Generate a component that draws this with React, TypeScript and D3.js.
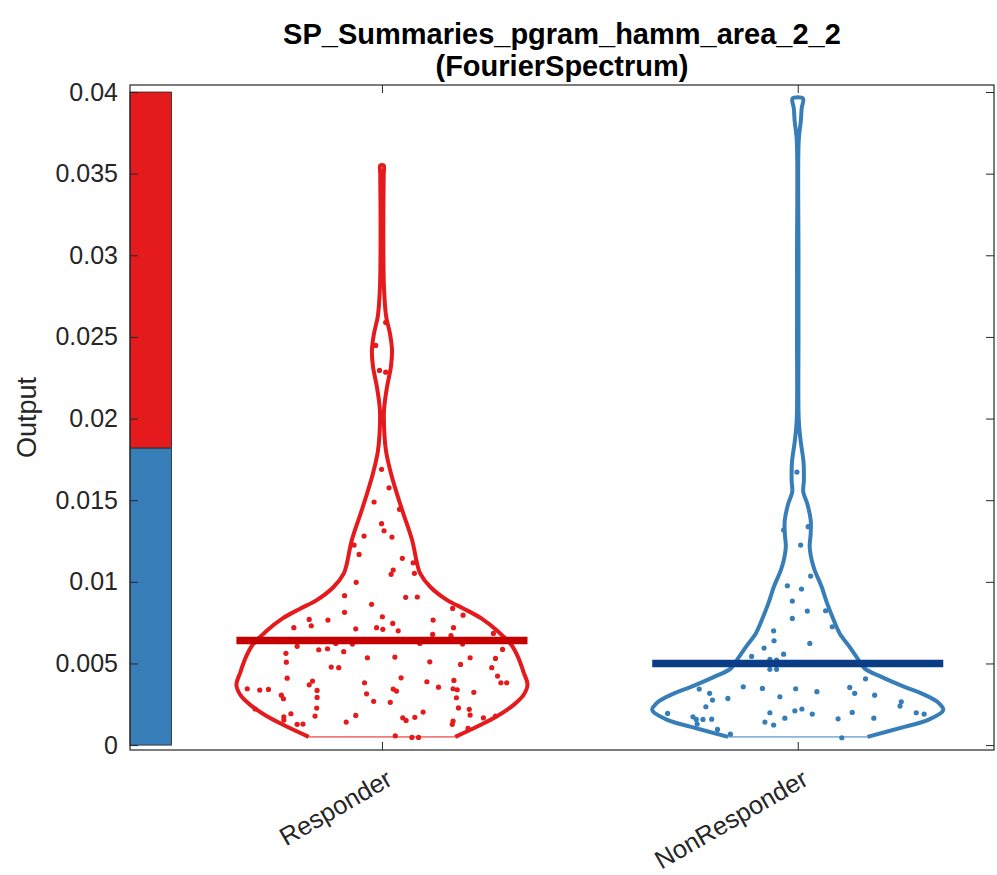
import React, { useEffect, useRef } from "react";
import * as d3 from "d3";

const categories = ["Responder", "NonResponder"];
const titleLines = ["SP_Summaries_pgram_hamm_area_2_2", "(FourierSpectrum)"];
const yTicks = [0, 0.005, 0.01, 0.015, 0.02, 0.025, 0.03, 0.035, 0.04];
const yTickLabels = ["0", "0.005", "0.01", "0.015", "0.02", "0.025", "0.03", "0.035", "0.04"];

// share of each group in the left bar (Responder on top, NonResponder below)
const barShares = [0.545, 0.455];
const barTop = 0.04;

// violin outlines: value levels and relative density
const respLevels = [0.0005, 0.00123, 0.00178, 0.00245, 0.00306, 0.00368, 0.00449, 0.00533, 0.00613, 0.00694, 0.00776, 0.00837, 0.00888, 0.0097, 0.01052, 0.01113, 0.01256, 0.0146, 0.01664, 0.018, 0.019, 0.0205, 0.0219, 0.0232, 0.0242, 0.0252, 0.0263, 0.028, 0.03, 0.033, 0.035, 0.0355];
const respDensity = [0.503, 0.676, 0.793, 0.903, 0.972, 1.0, 0.972, 0.938, 0.89, 0.8, 0.683, 0.559, 0.448, 0.331, 0.262, 0.241, 0.207, 0.131, 0.062, 0.028, 0.017, 0.014, 0.034, 0.062, 0.069, 0.055, 0.028, 0.014, 0.01, 0.01, 0.012, 0.012];

const nonLevels = [0.0005, 0.00112, 0.00153, 0.00214, 0.00265, 0.00317, 0.00357, 0.00418, 0.0047, 0.00521, 0.00602, 0.00684, 0.00766, 0.00868, 0.0097, 0.01072, 0.01133, 0.01215, 0.01297, 0.01378, 0.0148, 0.0155, 0.0162, 0.0173, 0.0187, 0.0199, 0.025, 0.03, 0.0371, 0.0382, 0.039, 0.0396];
const nonDensity = [0.479, 0.733, 0.892, 1.0, 0.959, 0.849, 0.733, 0.575, 0.459, 0.418, 0.356, 0.288, 0.247, 0.202, 0.164, 0.116, 0.096, 0.082, 0.089, 0.089, 0.065, 0.038, 0.042, 0.04, 0.019, 0.007, 0.005, 0.005, 0.007, 0.021, 0.027, 0.036];

// observations and their horizontal jitter (category units)
const respValues = [0.02589, 0.02448, 0.02295, 0.02284, 0.01689, 0.01576, 0.01489, 0.01444, 0.01356, 0.01313,
  0.0128, 0.01274, 0.01225, 0.01168, 0.01144, 0.01117, 0.01072, 0.01046, 0.01052, 0.00997,
  0.00915, 0.00905, 0.00907, 0.00862, 0.00837, 0.00796, 0.00813, 0.00786, 0.0077, 0.00766,
  0.00731, 0.00719, 0.00712, 0.00719, 0.00709, 0.00745, 0.00766, 0.007, 0.00719, 0.00678,
  0.0067, 0.00684, 0.00605, 0.00623, 0.00619, 0.00623, 0.00619, 0.00584, 0.0059, 0.00572,
  0.00586, 0.00562, 0.00535, 0.00539, 0.00535, 0.00531, 0.0051, 0.00508, 0.00494, 0.00478,
  0.00474, 0.00474, 0.00423, 0.0041, 0.00412, 0.00392, 0.00388, 0.00396, 0.00369, 0.00382,
  0.00382, 0.00382, 0.00355, 0.00345, 0.00337, 0.00341, 0.00335, 0.00343, 0.00331, 0.00345,
  0.00339, 0.00323, 0.00314, 0.00306, 0.00284, 0.00292, 0.0029, 0.00268, 0.00262, 0.00221,
  0.00227, 0.00228, 0.00219, 0.00202, 0.00192, 0.00184, 0.00173, 0.00178, 0.00182, 0.00167,
  0.0017, 0.00167, 0.00178, 0.00151, 0.00153, 0.00141, 0.00147, 0.00127, 0.00129, 0.00127,
  0.00102, 0.00057, 0.00047, 0.00047];
const respJitter = [0.009, -0.015, -0.006, 0.009, -0.001, 0.017, -0.019, 0.042, -0.001, 0.005,
  -0.043, 0.024, -0.067, -0.055, 0.049, 0.075, 0.027, 0.022, 0.078, -0.062,
  -0.09, 0.057, 0.085, -0.025, 0.17, 0.195, -0.09, 0.001, -0.175, -0.13,
  -0.17, -0.212, -0.063, -0.013, 0.002, 0.026, 0.123, 0.039, 0.172, 0.122,
  0.166, 0.268, -0.204, -0.111, -0.071, 0.091, 0.194, -0.152, -0.131, -0.092,
  0.29, -0.231, -0.035, 0.031, 0.212, 0.273, 0.115, -0.23, 0.189, -0.122,
  -0.104, 0.264, 0.278, -0.228, 0.046, -0.167, 0.108, 0.173, -0.175, -0.042,
  0.286, 0.3, 0.136, -0.324, -0.294, -0.273, -0.156, 0.027, 0.035, 0.171,
  0.181, 0.221, -0.037, -0.242, -0.237, -0.156, 0.179, -0.02, 0.02, -0.305,
  -0.157, 0.184, 0.21, 0.099, -0.219, 0.212, -0.236, -0.161, -0.063, 0.05,
  0.079, 0.244, 0.273, 0.058, -0.236, -0.086, 0.171, -0.204, -0.19, 0.169,
  0.207, 0.032, 0.072, 0.088];

const nonValues = [0.01672, 0.01338, 0.01317, 0.01225, 0.01035, 0.00976, 0.00956, 0.00882, 0.00821, 0.00823,
  0.00776, 0.00725, 0.007, 0.00639, 0.00623, 0.00594, 0.00557, 0.00543, 0.00525, 0.00521,
  0.00464, 0.00464, 0.00406, 0.00357, 0.00347, 0.00345, 0.00343, 0.00327, 0.00353, 0.00317,
  0.00306, 0.00317, 0.00276, 0.00286, 0.00296, 0.00265, 0.00239, 0.00235, 0.00221, 0.0021,
  0.00194, 0.00198, 0.0019, 0.002, 0.00198, 0.0019, 0.00173, 0.00157, 0.00157, 0.00159,
  0.00165, 0.00161, 0.00165, 0.00141, 0.00123, 0.00129, 0.00096, 0.00067, 0.00045];
const nonJitter = [-0.002, 0.025, -0.034, 0.007, 0.031, -0.025, 0.009, -0.013, 0.023, 0.067,
  -0.013, 0.083, -0.058, -0.057, 0.029, -0.081, -0.034, -0.111, -0.067, -0.051,
  -0.067, -0.051, 0.163, -0.131, -0.085, -0.005, -0.237, 0.046, 0.125, 0.137,
  0.185, -0.212, -0.205, -0.168, -0.043, 0.249, 0.246, -0.221, 0.01, -0.007,
  -0.313, -0.067, 0.035, 0.131, 0.285, 0.304, -0.252, -0.244, -0.228, -0.207,
  -0.031, 0.097, 0.183, -0.079, -0.058, -0.242, -0.193, -0.162, 0.106];

const groupMeans = [0.0064, 0.005];

const groupColors = ["#e41a1c", "#377eb8"];
const meanColors = ["#c40000", "#0b3d87"];
const axisColor = "#262626";

const App = () => {
  const ref = useRef<HTMLDivElement>(null);

  useEffect(() => {
    const width = 997;
    const height = 875;
    const plot = { left: 130, right: 994, top: 85, bottom: 750 };
    const font = "'Liberation Sans', Arial, Helvetica, sans-serif";

    d3.select(ref.current).select("svg").remove();

    const svg = d3
      .select(ref.current)
      .append("svg")
      .attr("width", width)
      .attr("height", height)
      .style("position", "absolute")
      .style("left", "0px")
      .style("top", "0px")
      .style("background", "#fff");

    const x = d3.scaleLinear().domain([0.394, 2.472]).range([plot.left, plot.right]);
    const y = d3.scaleLinear().domain([-0.0003, 0.04043]).range([plot.bottom, plot.top]);
    const halfWidth = 0.35; // violin half width in category units

    // stacked proportion bar on the left
    const barW = 0.1;
    const x0 = x.domain()[0];
    let base = 0;
    [1, 0].forEach((gi) => {
      const h = barShares[gi] * barTop;
      svg
        .append("rect")
        .attr("x", x(x0))
        .attr("width", x(x0 + barW) - x(x0))
        .attr("y", y(base + h))
        .attr("height", y(base) - y(base + h))
        .attr("fill", groupColors[gi])
        .attr("stroke", axisColor)
        .attr("stroke-width", 0.8);
      base += h;
    });

    const groups = [
      { levels: respLevels, density: respDensity, values: respValues, jitter: respJitter },
      { levels: nonLevels, density: nonDensity, values: nonValues, jitter: nonJitter },
    ];

    const line = d3
      .line<[number, number]>()
      .x((d) => x(d[0]))
      .y((d) => y(d[1]))
      .curve(d3.curveCatmullRom.alpha(0.5));

    groups.forEach((g, gi) => {
      const c = gi + 1;
      const color = groupColors[gi];

      // points
      svg
        .append("g")
        .selectAll("circle")
        .data(g.values)
        .enter()
        .append("circle")
        .attr("cx", (d, i) => x(c + g.jitter[i]))
        .attr("cy", (d) => y(d))
        .attr("r", 2.6)
        .attr("fill", color);

      // outline
      const left: [number, number][] = g.levels.map((v, i) => [c - g.density[i] * halfWidth, v]);
      const right: [number, number][] = g.levels
        .map((v, i) => [c + g.density[i] * halfWidth, v] as [number, number])
        .reverse();
      svg
        .append("path")
        .attr("d", line([...left, ...right]))
        .attr("fill", "none")
        .attr("stroke", color)
        .attr("stroke-width", 4)
        .attr("stroke-linejoin", "round");

      // thin closing line at the bottom
      const w0 = g.density[0] * halfWidth;
      svg
        .append("line")
        .attr("x1", x(c - w0))
        .attr("x2", x(c + w0))
        .attr("y1", y(g.levels[0]))
        .attr("y2", y(g.levels[0]))
        .attr("stroke", color)
        .attr("stroke-width", 1);

      // mean
      svg
        .append("line")
        .attr("x1", x(c - halfWidth))
        .attr("x2", x(c + halfWidth))
        .attr("y1", y(groupMeans[gi]))
        .attr("y2", y(groupMeans[gi]))
        .attr("stroke", meanColors[gi])
        .attr("stroke-width", 7.5);
    });

    // axes (ticks point inward)
    const styleAxis = (sel: any) => {
      sel.select(".domain").remove();
      sel.selectAll(".tick line").attr("stroke", axisColor);
      sel.selectAll(".tick text").attr("fill", axisColor).style("font-family", font).style("font-size", "25px");
    };

    svg
      .append("g")
      .attr("transform", `translate(${plot.left},0)`)
      .call(
        d3
          .axisLeft(y)
          .tickValues(yTicks)
          .tickFormat((d, i) => yTickLabels[i])
          .tickSize(-8)
          .tickPadding(12)
      )
      .call(styleAxis);

    svg
      .append("g")
      .attr("transform", `translate(${plot.right},0)`)
      .call(d3.axisRight(y).tickValues(yTicks).tickFormat(() => "").tickSize(-8))
      .call(styleAxis);

    const catTicks = categories.map((_, i) => i + 1);
    svg
      .append("g")
      .attr("transform", `translate(0,${plot.bottom})`)
      .call(d3.axisBottom(x).tickValues(catTicks).tickFormat(() => "").tickSize(-8))
      .call(styleAxis);

    svg
      .append("g")
      .attr("transform", `translate(0,${plot.top})`)
      .call(d3.axisTop(x).tickValues(catTicks).tickFormat(() => "").tickSize(-8))
      .call(styleAxis);

    svg
      .append("rect")
      .attr("x", plot.left)
      .attr("y", plot.top)
      .attr("width", plot.right - plot.left)
      .attr("height", plot.bottom - plot.top)
      .attr("fill", "none")
      .attr("stroke", axisColor)
      .attr("stroke-width", 1.2);

    // rotated category labels
    svg
      .append("g")
      .selectAll("text")
      .data(categories)
      .enter()
      .append("text")
      .attr("transform", (d, i) => `translate(${x(i + 1) + 12},${plot.bottom + 34}) rotate(-30)`)
      .attr("text-anchor", "end")
      .attr("fill", axisColor)
      .style("font-family", font)
      .style("font-size", "25.5px")
      .text((d) => d);

    // y label
    svg
      .append("text")
      .attr("transform", `translate(36,${(plot.top + plot.bottom) / 2}) rotate(-90)`)
      .attr("text-anchor", "middle")
      .attr("fill", axisColor)
      .style("font-family", font)
      .style("font-size", "27px")
      .text("Output");

    // title
    svg
      .append("g")
      .selectAll("text")
      .data(titleLines)
      .enter()
      .append("text")
      .attr("x", (plot.left + plot.right) / 2)
      .attr("y", (d, i) => 44 + i * 32)
      .attr("text-anchor", "middle")
      .attr("fill", "#000")
      .style("font-family", font)
      .style("font-weight", "bold")
      .style("font-size", "29px")
      .text((d) => d);
  }, []);

  return <div ref={ref}></div>;
};

export default App;
